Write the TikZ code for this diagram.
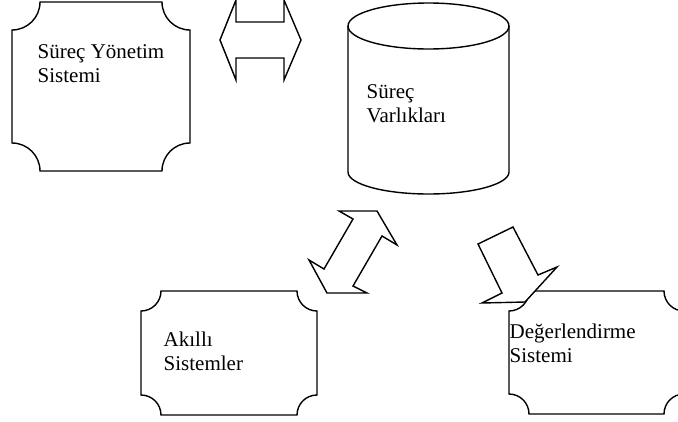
\documentclass[tikz,border=0pt]{standalone}
\usepackage{fontspec}
\setmainfont{Liberation Serif}
\usetikzlibrary{positioning}

% box with concave (cut) corners: x1, y1, x2, y2, corner radius
\newcommand{\plaquebox}[5]{%
  \draw[boxline] (#1,#2+#5) .. controls +(0.552*#5,0) and +(0,0.552*#5) .. (#1+#5,#2)
    -- (#3-#5,#2) .. controls +(0,0.552*#5) and +(-0.552*#5,0) .. (#3,#2+#5)
    -- (#3,#4-#5) .. controls +(-0.552*#5,0) and +(0,-0.552*#5) .. (#3-#5,#4)
    -- (#1+#5,#4) .. controls +(0,-0.552*#5) and +(0.552*#5,0) .. (#1,#4-#5)
    -- cycle;}

\begin{document}
\begin{tikzpicture}[x=1pt, y=-1pt, line width=1.4pt,
    boxline/.style={draw, line join=miter},
    blockarrow/.style={draw, fill=white, line join=miter},
    lbl/.style={anchor=base west, align=left, inner sep=0pt, font=\fontsize{21}{24}\selectfont}]
	\useasboundingbox (0,0) rectangle (678,421);

	% Boxes
	\plaquebox{12}{2}{190}{171}{28} % Süreç Yönetim Sistemi
	\plaquebox{141}{291}{317}{415}{20} % Akıllı Sistemler
	\plaquebox{509}{291}{684}{414}{20} % Değerlendirme Sistemi

	% Cylinder
	\draw[boxline] (428.5,26) ellipse [x radius=80.5pt, y radius=23pt]; % Top face
	\draw[boxline] (348,26) -- (348,172) arc [start angle=180, end angle=360, x radius=80.5pt, y radius=22pt] -- (509,26);

	% Labels (base = last line)
	\node[lbl] (yonetim) at (37,82) {Süreç Yönetim\\Sistemi};
	\node[lbl] (varlik) at (366,122) {Süreç\\Varlıkları};
	\node[lbl] (akilli) at (163,370) {Akıllı\\Sistemler};
	\node[lbl] (deger) at (509,362) {Değerlendirme\\Sistemi};

	% Block arrows
	\draw[blockarrow] (220,40) -- (236,0) -- (236,22) -- (284,22) -- (284,0) -- (301,40)
		-- (284,80) -- (284,58) -- (236,58) -- (236,80) -- cycle; % Yönetim <-> Varlıklar
	\draw[blockarrow] (339,211) -- (377,211) -- (397,245) -- (382,236) -- (353,286)
		-- (367,293) -- (327,293) -- (309,260) -- (324,269) -- (353,219) -- cycle; % Varlıklar <-> Akıllı
	\draw[blockarrow] (478,244) -- (513,227) -- (538,275) -- (557,267) -- (525,302)
		-- (482,303) -- (502,293) -- cycle; % Varlıklar -> Değerlendirme
\end{tikzpicture}
\end{document}
